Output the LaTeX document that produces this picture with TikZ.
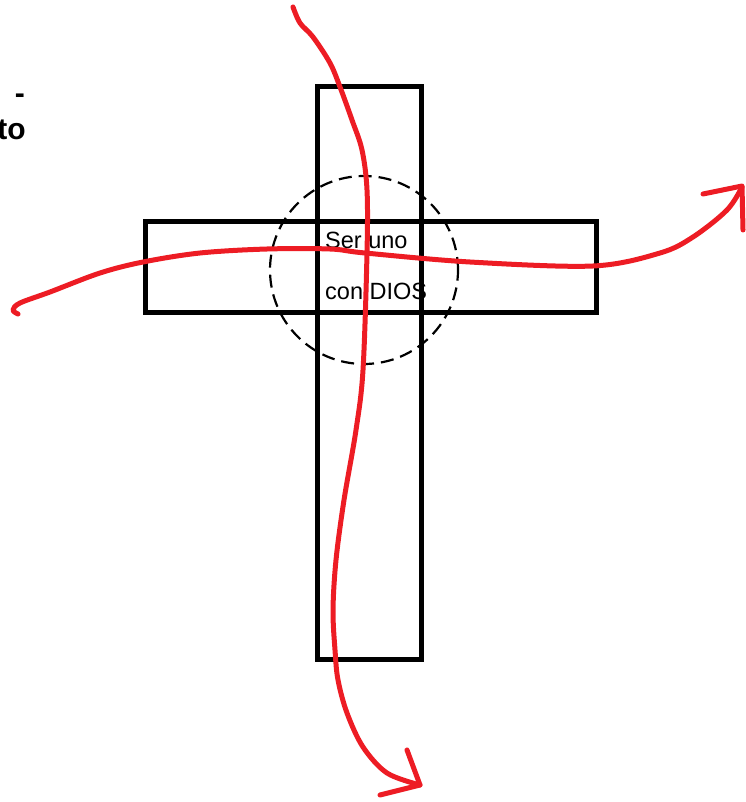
\documentclass[tikz,border=0pt]{standalone}
\usepackage{fontspec}
\setmainfont{Liberation Sans}
\usetikzlibrary{positioning}
\definecolor{penred}{HTML}{ED1C24}

\begin{document}
\begin{tikzpicture}[x=1pt,y=-1pt,
 beam/.style={draw=black,line width=5pt,inner sep=0pt},
 halo/.style={draw=black,line width=2.2pt,dash pattern=on 13pt off 7pt},
 pen/.style={draw=penred,line width=5pt,line cap=round,line join=round},
 word/.style={font=\fontsize{23.5}{26}\selectfont,inner sep=0pt},
 side/.style={font=\bfseries\fontsize{30}{36}\selectfont,inner sep=0pt}]
\useasboundingbox (0,0) rectangle (745,802);
\node[beam,minimum width=104pt,minimum height=572pt] (upright) at (369,373) {};
\node[beam,minimum width=451pt,minimum height=90pt] (crossbar) at (370.5,267) {};
\node[halo,circle,minimum size=188pt] (union) at (364,270) {};
\node[word,anchor=base west] (ser) at (325,248) {Ser uno};
\node[word,anchor=base west] (con) at (325,299) {con DIOS};
\node[side,anchor=base east] (dash) at (25,104) {-};
\node[side,anchor=base east] (tail) at (26,140) {to};
% red strokes
\draw[pen] plot[smooth,tension=0.55] coordinates {(293,7) (300,23) (313,37) (330,63) (340,87) (352,120) (362,150) (367,190) (367,253) (363,370) (356,430) (344,500) (336,560) (333,610) (335,650) (338,680) (347,713) (363,747) (387,773) (420,785)};
\draw[pen] (407,750) -- (420,785) -- (380,795);
\draw[pen] plot[smooth,tension=0.55] coordinates {(18,314) (13,310) (20,303) (50,292) (100,273) (143,262) (200,253) (267,249) (330,249) (365,253) (470,262) (593,266) (660,253) (693,237) (727,210) (742,187)};
\draw[pen] (703,194) -- (742,186) -- (743,230);
\end{tikzpicture}
\end{document}
